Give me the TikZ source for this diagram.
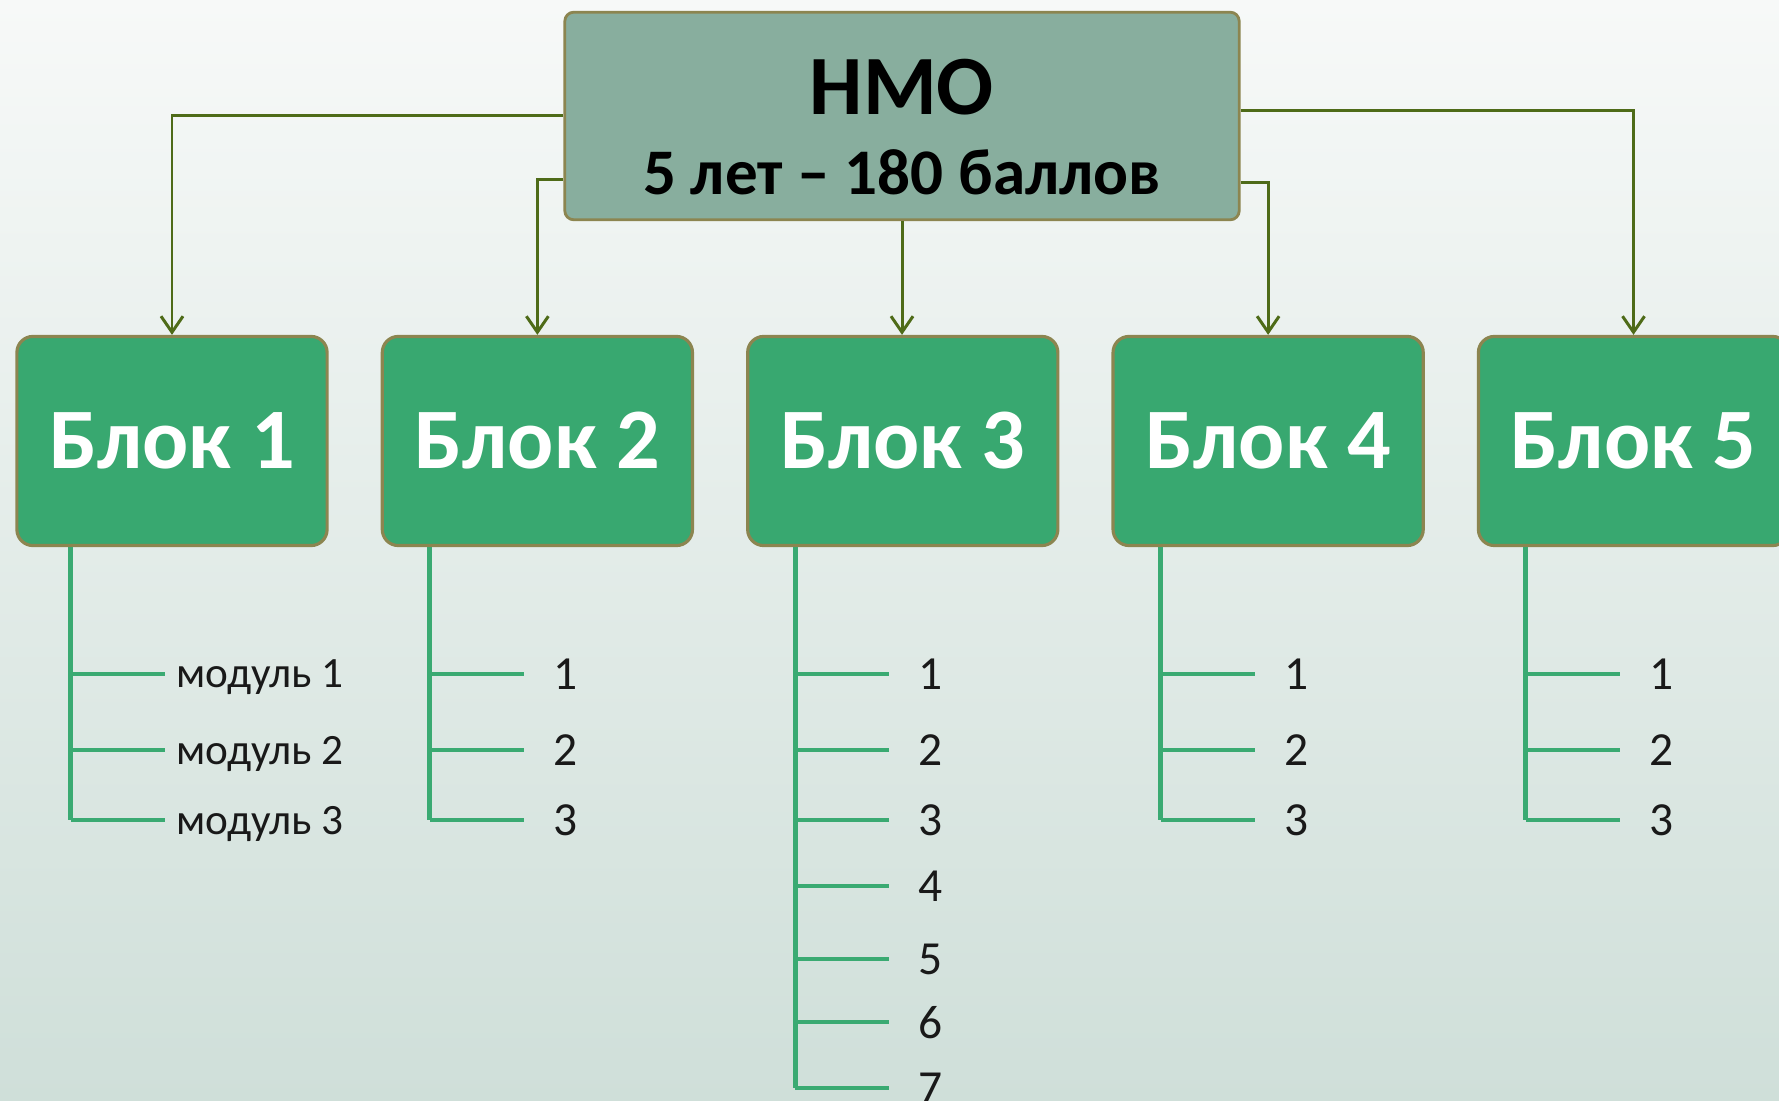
\documentclass[tikz,border=0pt]{standalone}
\usepackage{fontspec}
\setmainfont{Carlito}
\usetikzlibrary{positioning, arrows.meta}
\definecolor{bgtop}{RGB}{247,249,248}
\definecolor{bgbottom}{RGB}{207,223,217}
\definecolor{headfill}{RGB}{136,174,158}
\definecolor{boxline}{RGB}{140,133,80}
\definecolor{blockfill}{RGB}{56,168,112}
\definecolor{linkcol}{RGB}{78,107,24}
\definecolor{treecol}{RGB}{58,170,114}
\tikzset{
    head/.style={rectangle, rounded corners=0.09cm, draw=boxline, fill=headfill, line width=0.8pt, minimum width=6.74cm, minimum height=2.075cm, align=center, text=black, font=\bfseries},
    block/.style={rectangle, rounded corners=0.16cm, draw=boxline, fill=blockfill, line width=0.9pt, minimum width=3.1cm, minimum height=2.09cm, text=white, font=\fontsize{24.5}{29}\selectfont\bfseries},
    link/.style={draw=linkcol, line width=0.85pt, -{Straight Barb[length=1.6mm, width=2.2mm]}},
    tree/.style={draw=treecol, line width=1.4pt},
    item/.style={anchor=west, inner sep=0pt, text depth=0pt, text=black!90, font=\fontsize{13.5}{16}\selectfont},
}
\begin{document}
\begin{tikzpicture}[x=0.01cm, y=-0.01cm, node distance=0.52cm]
    \fill[top color=bgtop, bottom color=bgbottom] (0,0) rectangle (1779,1101);
    \useasboundingbox (0,0) rectangle (1779,1101);
    \clip (0,0) rectangle (1779,1101);
    % head and blocks
    \node [head] (nmo) at (902,116) {\fontsize{24}{29}\selectfont\rule{0pt}{22pt}НМО\\[9pt]\fontsize{18.5}{22}\selectfont 5 лет – 180 баллов};
    \node [block] (blok1) at (172,441) {Блок 1};
    \node [block] (blok2) [right=of blok1] {Блок 2};
    \node [block] (blok3) [right=of blok2] {Блок 3};
    \node [block] (blok4) [right=of blok3] {Блок 4};
    \node [block] (blok5) [right=of blok4] {Блок 5};
    \draw[link] (nmo.west) -| (blok1.north);
    \draw[link] ([yshift=-0.63cm]nmo.west) -| (blok2.north);
    \draw[link] (nmo.south) -- (nmo.south |- blok3.north);
    \draw[link] ([yshift=-0.66cm]nmo.east) -| (blok4.north);
    \draw[link] ([yshift=0.05cm]nmo.east) -| (blok5.north);
    % modules of block 1
    \coordinate (s1) at ([xshift=0.555cm]blok1.south west);
    \foreach \y/\t [count=\k] in {674/модуль 1, 750/модуль 2, 820/модуль 3} {
        \coordinate (t1\k) at ([xshift=0.94cm]s1 |- 0,\y);
        \draw[tree] (s1) -- (s1 |- t1\k);
        \draw[tree] (s1 |- t1\k) -- (t1\k);
        \node [item, font=\fontsize{12.3}{15}\selectfont, right=0.11cm of t1\k] (n1\k) {\t};
    }
    % modules of blocks 2--5
    \foreach \b/\ys in {2/{674,750,820}, 3/{674,750,820,886,959,1022,1088}, 4/{674,750,820}, 5/{674,750,820}} {
        \coordinate (s\b) at ([xshift=0.49cm]blok\b.south west);
        \foreach \y [count=\k] in \ys {
            \coordinate (t\b\k) at ([xshift=0.94cm]s\b |- 0,\y);
            \draw[tree] (s\b) -- (s\b |- t\b\k);
            \draw[tree] (s\b |- t\b\k) -- (t\b\k);
            \node [item, right=0.29cm of t\b\k] (n\b\k) {\k};
        }
    }
\end{tikzpicture}
\end{document}
